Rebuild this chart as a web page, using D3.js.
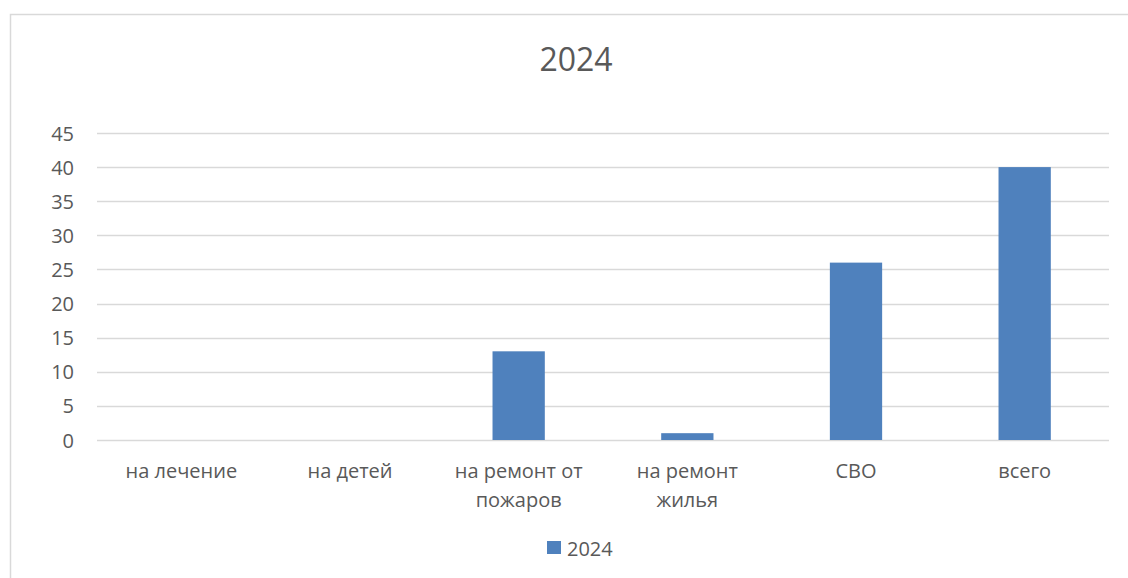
<!DOCTYPE html>
<html>
<head>
<meta charset="utf-8">
<script src="https://cdn.jsdelivr.net/npm/d3@7"></script>
<style>
  body { margin: 0; background: #fff; }
  text { font-family: "Open Sans", "Noto Sans", sans-serif; fill: #595959; }
</style>
</head>
<body>
<div id="chart"></div>
<script>
var categories = [["на лечение"], ["на детей"], ["на ремонт от", "пожаров"], ["на ремонт", "жилья"], ["СВО"], ["всего"]];
var values2024 = [0, 0, 13, 1, 26, 40];
var yTicks = [0, 5, 10, 15, 20, 25, 30, 35, 40, 45];
var seriesName = "2024";
var chartTitle = "2024";

var width = 1128, height = 578;
var margin = { top: 133, right: 19, bottom: 138, left: 97 };

var svg = d3.select("#chart").append("svg")
  .attr("width", width)
  .attr("height", height);

// chart frame
svg.append("rect")
  .attr("x", 10.5).attr("y", 14.5)
  .attr("width", 1130).attr("height", 600)
  .attr("fill", "none")
  .attr("stroke", "#d9d9d9")
  .attr("stroke-width", 1.5);

var x = d3.scaleBand()
  .domain(categories.map(function(d) { return d.join(" "); }))
  .range([margin.left, width - margin.right])
  .paddingInner(0.69)
  .paddingOuter(0.345);

var y = d3.scaleLinear()
  .domain([0, 45])
  .range([height - margin.bottom, margin.top]);

// gridlines
svg.append("g")
  .selectAll("line")
  .data(yTicks)
  .enter().append("line")
  .attr("x1", margin.left)
  .attr("x2", width - margin.right)
  .attr("y1", function(d) { return Math.round(y(d)) + 0.5; })
  .attr("y2", function(d) { return Math.round(y(d)) + 0.5; })
  .attr("stroke", "#d9d9d9")
  .attr("stroke-width", 1.3);

// y axis labels
var yAxis = d3.axisLeft(y).tickValues(yTicks).tickSize(0).tickPadding(0);
var yg = svg.append("g")
  .attr("transform", "translate(" + 74 + ",0)")
  .call(yAxis);
yg.select(".domain").remove();
yg.selectAll("text")
  .style("font-size", "20px")
  .style("font-family", null)
  .attr("fill", "#595959")
  .attr("dy", "0.35em");
yg.attr("font-family", null).attr("font-size", null);

// bars
svg.append("g")
  .selectAll("rect")
  .data(values2024)
  .enter().append("rect")
  .attr("x", function(d, i) { return x(categories[i].join(" ")); })
  .attr("width", x.bandwidth())
  .attr("y", function(d) { return y(d); })
  .attr("height", function(d) { return y(0) - y(d); })
  .attr("fill", "#4f81bd");

// x axis labels
var xg = svg.append("g");
categories.forEach(function(lines, i) {
  var cx = x(lines.join(" ")) + x.bandwidth() / 2;
  var t = xg.append("text")
    .attr("text-anchor", "middle")
    .attr("x", cx)
    .attr("y", 478)
    .style("font-size", "20px");
  lines.forEach(function(line, j) {
    t.append("tspan")
      .attr("x", cx)
      .attr("dy", j === 0 ? 0 : 29)
      .text(line);
  });
});

// title
svg.append("text")
  .attr("x", 576)
  .attr("y", 71)
  .attr("text-anchor", "middle")
  .style("font-size", "32px")
  .text(chartTitle);

// legend
var legend = svg.append("g").attr("transform", "translate(547,541)");
legend.append("rect")
  .attr("width", 14).attr("height", 13)
  .attr("fill", "#4f81bd");
legend.append("text")
  .attr("x", 20)
  .attr("y", 15)
  .style("font-size", "20px")
  .text(seriesName);
</script>
</body>
</html>
